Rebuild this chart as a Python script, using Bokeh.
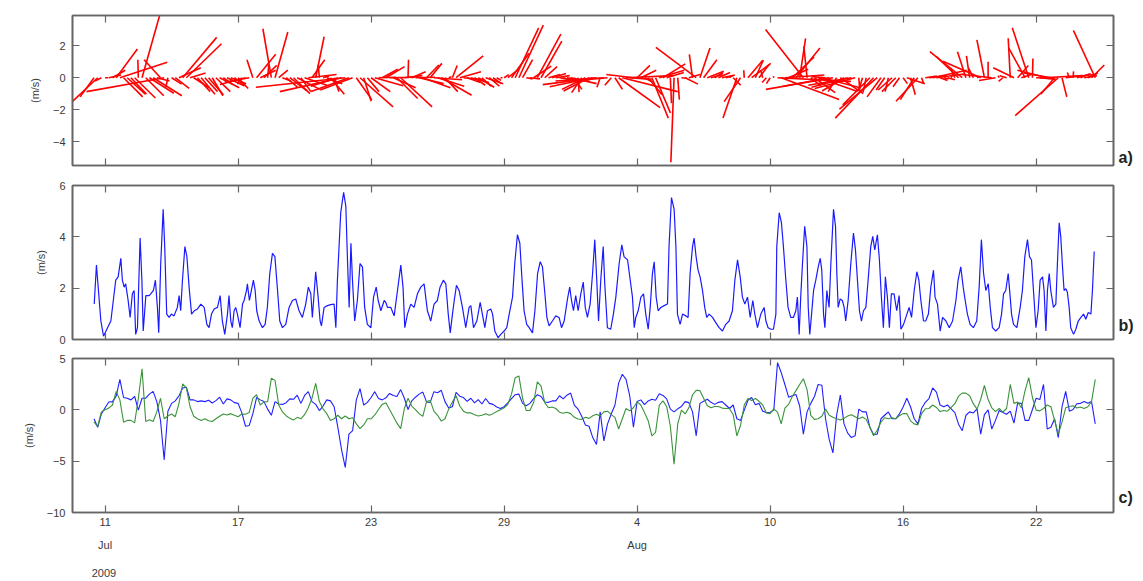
import numpy as np
from bokeh.plotting import figure
from bokeh.layouts import column
from bokeh.models import Range1d, FixedTicker, LinearAxis
from bokeh.embed import file_html
from bokeh.resources import INLINE

# x values are day numbers counted from 0 July 2009 (1 Aug = 32)
tick_days = [11, 17, 23, 29, 35, 41, 47, 53]
tick_labels = ["11", "17", "23", "29", "4", "10", "16", "22"]
month_days = [11, 35]
month_labels = ["Jul", "Aug"]
year_day = 10.95
year_label = "2009"
panel_tags = ["a)", "b)", "c)"]

# panel b: wind speed (m/s), vertices
speed_time = [
    10.51, 10.61, 10.81, 10.93, 11.11, 11.26, 11.48, 11.59, 11.71, 11.78, 11.86, 11.93, 12.04, 12.13, 12.23,
    12.31, 12.38, 12.46, 12.58, 12.66, 12.72, 12.84, 12.99, 13.06, 13.18, 13.27, 13.36, 13.42, 13.51, 13.62,
    13.69, 13.78, 13.89, 13.99, 14.11, 14.26, 14.34, 14.41, 14.49, 14.60, 14.69, 14.79, 14.90, 15.02, 15.17,
    15.32, 15.47, 15.59, 15.69, 15.80, 15.92, 16.07, 16.19, 16.29, 16.40, 16.52, 16.59, 16.67, 16.74, 16.82,
    16.89, 16.97, 17.09, 17.20, 17.27, 17.38, 17.42, 17.51, 17.60, 17.69, 17.77, 17.84, 17.95, 18.10, 18.22,
    18.32, 18.43, 18.55, 18.66, 18.78, 18.88, 19.00, 19.15, 19.30, 19.45, 19.60, 19.75, 19.90, 20.05, 20.17,
    20.28, 20.35, 20.50, 20.61, 20.70, 20.76, 20.88, 21.03, 21.18, 21.33, 21.41, 21.48, 21.63, 21.76, 21.86,
    21.94, 22.01, 22.09, 22.16, 22.26, 22.38, 22.50, 22.61, 22.71, 22.83, 22.99, 23.11, 23.23, 23.32, 23.44,
    23.59, 23.66, 23.74, 23.89, 24.04, 24.19, 24.34, 24.44, 24.52, 24.64, 24.79, 24.94, 25.09, 25.24, 25.39,
    25.54, 25.69, 25.84, 25.99, 26.11, 26.26, 26.37, 26.48, 26.57, 26.67, 26.75, 26.85, 26.97, 27.12, 27.27,
    27.42, 27.50, 27.62, 27.77, 27.92, 28.02, 28.13, 28.25, 28.40, 28.48, 28.58, 28.73, 28.85, 29.00, 29.12,
    29.23, 29.38, 29.48, 29.60, 29.71, 29.80, 29.90, 30.02, 30.13, 30.28, 30.39, 30.51, 30.63, 30.73, 30.84,
    30.93, 31.03, 31.18, 31.33, 31.48, 31.59, 31.71, 31.86, 31.96, 32.04, 32.13, 32.23, 32.34, 32.46, 32.57,
    32.66, 32.76, 32.88, 32.99, 33.09, 33.18, 33.26, 33.36, 33.47, 33.54, 33.66, 33.81, 33.93, 34.04, 34.19,
    34.31, 34.41, 34.57, 34.69, 34.79, 34.87, 34.94, 35.05, 35.17, 35.29, 35.39, 35.50, 35.59, 35.69, 35.77,
    35.86, 35.95, 36.07, 36.22, 36.37, 36.44, 36.55, 36.67, 36.75, 36.82, 36.94, 37.05, 37.20, 37.30, 37.39,
    37.50, 37.57, 37.66, 37.75, 37.84, 37.95, 38.05, 38.14, 38.25, 38.40, 38.55, 38.70, 38.85, 39.00, 39.15,
    39.30, 39.41, 39.53, 39.65, 39.75, 39.86, 39.98, 40.10, 40.22, 40.31, 40.43, 40.58, 40.73, 40.81, 40.91,
    41.03, 41.15, 41.26, 41.30, 41.41, 41.51, 41.60, 41.71, 41.81, 41.93, 42.05, 42.16, 42.23, 42.31, 42.38,
    42.46, 42.56, 42.66, 42.72, 42.79, 42.87, 42.96, 43.06, 43.17, 43.26, 43.33, 43.41, 43.47, 43.56, 43.66,
    43.74, 43.86, 43.95, 44.01, 44.07, 44.16, 44.26, 44.34, 44.41, 44.52, 44.64, 44.76, 44.85, 44.94, 45.03,
    45.12, 45.21, 45.32, 45.42, 45.54, 45.63, 45.72, 45.84, 45.93, 46.02, 46.11, 46.20, 46.29, 46.38, 46.47,
    46.59, 46.71, 46.82, 46.90, 47.02, 47.17, 47.27, 47.38, 47.50, 47.62, 47.71, 47.80, 47.92, 48.02, 48.14,
    48.25, 48.37, 48.44, 48.55, 48.67, 48.78, 48.93, 49.08, 49.23, 49.38, 49.48, 49.60, 49.71, 49.80, 49.90,
    50.02, 50.17, 50.32, 50.43, 50.53, 50.63, 50.73, 50.84, 50.93, 51.03, 51.18, 51.33, 51.44, 51.53, 51.63,
    51.74, 51.83, 51.89, 51.98, 52.13, 52.28, 52.38, 52.49, 52.61, 52.70, 52.79, 52.88, 52.99, 53.09, 53.18,
    53.29, 53.36, 53.44, 53.51, 53.59, 53.66, 53.78, 53.89, 53.96, 54.04, 54.11, 54.19, 54.26, 54.34, 54.41,
    54.49, 54.56, 54.69, 54.79, 54.90, 55.02, 55.14, 55.24, 55.35, 55.47, 55.54, 55.62,
]
speed = [
    1.38, 2.90, 0.72, 0.13, 0.46, 0.72, 2.31, 2.44, 3.16, 2.31, 2.04, 2.17, 1.52, 0.86, 1.78,
    1.91, 0.20, 0.46, 3.95, 2.31, 0.33, 1.71, 1.71, 1.78, 1.91, 2.31, 1.25, 0.26, 2.96, 5.07,
    3.62, 0.99, 0.86, 0.99, 0.92, 1.25, 1.71, 1.12, 2.31, 3.62, 3.23, 2.04, 0.99, 1.12, 1.19,
    1.38, 1.25, 0.59, 0.46, 0.99, 1.19, 1.25, 1.71, 0.72, 0.20, 0.99, 1.71, 0.72, 0.46, 1.12,
    1.25, 0.99, 0.46, 1.38, 1.52, 1.91, 2.17, 1.52, 1.91, 2.31, 1.91, 1.12, 0.72, 0.46, 0.59,
    1.25, 2.57, 3.36, 3.23, 1.91, 0.72, 0.46, 0.59, 1.25, 1.52, 1.58, 1.12, 0.86, 1.38, 2.04,
    1.78, 0.86, 2.64, 1.65, 0.72, 0.53, 1.25, 1.32, 1.36, 1.38, 0.46, 2.31, 4.94, 5.73, 5.20,
    2.96, 1.25, 3.75, 2.31, 0.72, 1.52, 2.96, 2.83, 1.25, 0.59, 0.46, 1.65, 2.04, 1.52, 1.12,
    1.52, 1.45, 1.25, 1.25, 0.92, 1.91, 2.90, 2.04, 0.46, 0.99, 1.38, 1.25, 1.78, 2.04, 2.17,
    1.12, 0.72, 1.38, 1.52, 2.04, 2.31, 2.17, 0.99, 0.26, 0.99, 1.52, 2.11, 1.91, 1.25, 0.46,
    1.25, 1.32, 0.46, 0.72, 1.45, 0.99, 0.46, 1.12, 1.19, 0.99, 0.33, 0.07, 0.20, 0.33, 0.46,
    0.99, 1.65, 2.96, 4.08, 3.75, 2.44, 1.12, 0.59, 0.46, 0.26, 1.12, 2.57, 3.03, 2.83, 1.78,
    0.86, 0.53, 0.72, 0.92, 0.86, 0.46, 0.72, 1.58, 2.04, 1.52, 1.12, 1.71, 1.12, 1.78, 2.24,
    1.25, 0.86, 1.38, 2.57, 3.89, 2.31, 0.72, 2.31, 3.62, 2.17, 0.46, 0.40, 0.99, 1.65, 2.96,
    3.69, 3.23, 3.10, 2.31, 1.65, 0.46, 0.86, 1.12, 1.65, 1.78, 0.99, 0.40, 1.25, 2.57, 3.03,
    1.65, 1.12, 1.25, 1.32, 1.38, 3.62, 5.53, 5.07, 3.62, 0.99, 0.59, 0.99, 0.92, 0.86, 2.57,
    3.62, 3.95, 3.23, 2.70, 2.44, 1.91, 1.25, 0.86, 0.99, 0.86, 0.66, 0.46, 0.33, 0.59, 0.72,
    1.12, 2.31, 3.10, 2.44, 1.65, 1.38, 1.65, 0.86, 1.52, 0.99, 0.46, 0.99, 1.25, 0.72, 0.46,
    0.40, 0.40, 0.99, 3.62, 4.94, 4.55, 3.62, 2.31, 1.25, 0.86, 0.86, 1.12, 1.65, 0.20, 1.65,
    2.96, 4.41, 3.62, 1.25, 0.20, 0.99, 1.91, 2.31, 2.83, 3.16, 2.70, 0.99, 0.46, 1.91, 1.25,
    2.96, 5.07, 4.41, 2.57, 1.25, 1.58, 1.52, 1.25, 0.72, 1.52, 2.96, 4.15, 3.49, 2.31, 1.12,
    0.72, 1.12, 1.25, 2.31, 3.62, 4.02, 3.49, 4.08, 3.10, 1.65, 0.46, 2.44, 1.65, 0.46, 1.78,
    1.78, 1.12, 1.71, 0.40, 0.59, 0.99, 1.25, 0.86, 1.91, 2.64, 2.31, 1.52, 0.72, 0.72, 0.99,
    2.04, 2.70, 1.65, 1.38, 0.33, 0.86, 0.72, 0.46, 0.72, 1.52, 2.31, 2.83, 2.04, 1.52, 0.99,
    0.59, 0.46, 0.72, 2.04, 3.89, 2.57, 1.91, 2.17, 1.25, 0.46, 0.33, 0.46, 0.99, 1.78, 1.91,
    2.57, 1.65, 0.99, 0.59, 0.46, 1.25, 1.91, 3.23, 3.89, 3.23, 3.10, 1.91, 0.46, 1.12, 2.31,
    2.44, 1.91, 0.33, 1.91, 2.57, 1.91, 1.25, 1.38, 2.96, 4.55, 4.02, 2.83, 1.91, 1.98, 1.84,
    1.25, 0.46, 0.20, 0.40, 0.72, 0.86, 0.99, 0.79, 1.05, 0.99, 1.91, 3.43,
]

# panels a and c: east (u, blue) and north (v, green) components, one reading every 4 hours
uv_start_day = 10.5
uv_step_hours = 4
u = [
    -0.87, -1.7, -0.4, 0.2, 0.77, 0.8, 1.33, 2.97, 1.2, 1.13,
    0.97, 1.3, -0.03, 1.13, 1.13, 1.53, 1.8, 0.8, -1.03, -4.87,
    -0.13, 0.63, 0.87, 1.37, 2.13, 2.2, 0.97, 0.97, 0.8, 0.87,
    0.8, 0.93, 0.67, 0.9, 1.23, 0.57, 1.07, 0.97, 0.7, 0.63,
    -0.27, -1.6, -1.53, -0.37, 1.2, 0.97, 0.8, 0.07, -0.53, 0.8,
    0.57, 0.53, 0.7, 1.07, 1.03, 1.43, 0.63, 1.4, 1.77, 0.8,
    0.53, -0.07, 0.37, 0.97, 0.87, 0.3, -1.7, -3.87, -5.6, -2.37,
    -2.03, 0.97, 2.07, 0.47, 0.73, 1.2, 1.77, 1.1, 0.97, 1.17,
    1.6, 1.4, 1.3, 1.97, 1.13, 0.03, 0.87, 1.23, 1.53, 1.73,
    0.77, 0.73, 1.77, 1.67, 1.9, 0.8, 0.17, 0.3, 1.7, 1.33,
    1.2, 0.83, 1.13, 0.67, 1.0, 0.57, 1.1, 0.63, 0.53, 0.27,
    0.13, 0.3, 0.67, 1.1, 1.47, 1.53, 0.63, 0.4, 0.63, 1.1,
    1.47, 1.3, 0.77, 0.73, 0.87, 0.87, 1.37, 1.07, 1.43, 1.63,
    0.47, 0.07, -0.63, -1.47, -1.6, -2.7, -3.37, -0.2, -3.03, -1.37,
    -0.4, 0.47, 2.6, 3.47, 2.97, 1.37, -1.7, 0.8, 0.97, 0.5,
    0.87, 1.03, 0.93, 1.57, 1.4, 1.07, 0.07, -0.2, 0.1, 0.33,
    0.8, 0.7, -0.2, -2.53, 0.63, 0.83, 1.03, 0.73, 0.53, 0.73,
    0.8, 0.47, 0.13, 0.47, -0.87, -1.03, -0.03, 0.93, 1.2, 0.5,
    0.63, -0.13,
    -0.27, -0.23, -0.03, 4.6, 3.63, 2.47, 1.23, 1.37, 1.5, 0.37,
    -2.37, -0.2, 0.63, 1.3, 2.47, 2.4, -0.87, -2.9, -4.2, -0.53,
    1.43, -1.37, -2.27, -2.7, -2.53, 0.07, -0.2, -0.2, -1.7, -2.4,
    -2.37, -0.87, -0.53, -0.2, -0.87, -0.87, -0.4, 0.27, 1.13, 0.3,
    -0.87, -1.37, 0.13, 0.73, 1.1, 2.13, 1.73, 0.47, 0.3, 0.47,
    0.1, -0.27, -1.4, -2.03, -0.53, -0.2, -0.3, 0.1, -2.37, -0.47,
    0.0, -1.87, -1.03, -0.07, -0.27, -0.43, -0.13, -1.3, 0.67, 0.63,
    -1.03, -1.03, 0.03, 1.13, 1.0, 2.47, -1.87, -1.7, -0.87, -2.7,
    0.3, 1.8, -0.13, 0.03, 0.6, 0.63, 0.8, 0.63, 0.8, -1.37,
]
v = [
    -1.2, -1.6, -0.2, 0.0, 0.17, 0.47, 1.8, 0.97, -1.2, -1.03,
    -1.03, -1.27, 1.13, 4.0, -1.13, -0.97, -1.13, -0.2, 1.13, -0.87,
    -0.6, -0.4, -0.67, 0.63, 2.53, 2.13, 0.3, -0.63, -0.87, -1.03,
    -0.87, -1.07, -1.13, -0.87, -0.63, -0.4, -0.5, -0.37, -0.53, -0.67,
    -0.4, -0.43, -0.27, 1.13, 1.47, 0.47, 0.77, 0.8, 3.07, 2.87,
    0.47, -0.2, -0.57, -0.83, -1.0, -0.73, -0.87, -0.47, 0.2, 1.13,
    2.57, 0.8, 0.1, -0.37, -1.03, -0.87, -0.53, -0.87, -0.6, -0.87,
    -0.77, -1.37, -1.83, -1.47, -0.87, -0.87, -0.5, 0.03, 0.53, 0.7,
    0.03, -0.63, -1.3, -1.83, 0.13, 1.13, 0.37, 0.03, -0.37, -0.63,
    0.8, 0.9, -0.13, -0.53, -1.1, -0.87, 0.07, 0.77, 1.37, 0.37,
    -0.13, -0.3, -0.3, -0.47, -0.6, -0.53, -0.37, -0.53, -0.37, -0.17,
    0.0, 0.2, 0.53, 1.53, 3.13, 3.3, 1.13, -0.07, -0.07, 0.73,
    2.73, 2.3, 0.7, 0.2, 0.27, 0.13, -0.23, -0.33, -0.23, -0.37,
    -0.73, -0.9, -0.93, -0.73, -0.83, -0.57, -0.43, -0.6, -0.2, -0.13,
    -0.47, -0.73, -1.87, -0.87, 0.13, -0.1, 0.2, 0.77, 0.47, -0.27,
    -1.07, -2.53, -2.2, 0.47, 0.87, 0.33, -1.6, -5.3, -1.37, -0.03,
    -0.4, 0.2, 1.47, 1.9, 1.87, 1.13, 0.4, 0.2, 0.33, 0.33,
    0.17, 0.13, 0.13, -0.47, -2.53, -1.5, 0.47, 1.1, 0.9, 1.1,
    0.83, 0.47,
    -0.3, -0.37, 0.1, -0.23, -1.37, 0.17, 0.53, 1.3, 1.87, 2.47,
    3.03, 1.97, -0.53, -0.93, -0.87, -0.63, 0.07, -0.53, -0.73, -0.87,
    -1.0, -0.83, -0.6, -0.47, -0.67, -0.87, -0.7, -0.93, -1.7, -2.53,
    -1.97, -1.2, -0.77, -0.87, -0.77, -0.87, -0.57, -0.37, -0.37, -1.07,
    -1.37, -1.47, -0.37, 0.1, 0.13, 0.47, 0.23, -0.17, -0.07, -0.13,
    0.23, 0.6, 1.33, 1.63, 1.63, 1.37, 0.6, 0.07, 1.03, 2.37,
    1.0, 0.2, -0.17, 0.13, -0.23, 0.13, 2.47, 0.63, 0.77, 0.2,
    1.87, 3.13, 1.2, -0.03, -0.1, 0.13, 0.47, 0.3, -1.03, -2.37,
    -1.2, 0.2, 0.33, 0.4, 0.17, 0.27, 0.13, 0.3, 0.8, 2.97,
]

uv_time = uv_start_day + np.arange(len(u)) * uv_step_hours / 24.0
u_arr = np.array(u)
v_arr = np.array(v)

X_START, X_END = 9.53, 56.49
FRAME_W = 1041
AX_COLOR = "#666666"
LBL_COLOR = "#3a3a3a"
FONT = "Liberation Sans"


def style_axis(ax):
    ax.axis_line_color = AX_COLOR
    ax.axis_line_width = 1.6
    ax.major_tick_line_color = AX_COLOR
    ax.major_tick_line_width = 1.2
    ax.major_tick_in = 7
    ax.major_tick_out = 0
    ax.minor_tick_line_color = None
    ax.major_label_text_font = FONT
    ax.major_label_text_font_size = "11px"
    ax.major_label_text_color = LBL_COLOR
    ax.major_label_standoff = 5


def hide_labels(ax):
    ax.major_label_text_color = None
    ax.major_label_text_font_size = "1px"
    ax.major_label_standoff = 0


def text_axis(ticks, labels, size, bold, standoff):
    ax = LinearAxis(ticker=FixedTicker(ticks=ticks),
                    major_label_overrides={t: s for t, s in zip(ticks, labels)})
    ax.axis_line_color = None
    ax.major_tick_line_color = None
    ax.minor_tick_line_color = None
    ax.major_tick_in = 0
    ax.major_tick_out = 0
    ax.major_label_text_font = FONT
    ax.major_label_text_font_size = size
    ax.major_label_text_font_style = "bold" if bold else "normal"
    ax.major_label_text_color = "#222222" if bold else LBL_COLOR
    ax.major_label_standoff = standoff
    return ax


def make_fig(frame_h, y0, y1, yticks, top, bottom, show_x_labels, tag, tag_y):
    p = figure(frame_width=FRAME_W, frame_height=frame_h,
               x_range=Range1d(X_START, X_END), y_range=Range1d(y0, y1),
               output_backend="svg", toolbar_location=None,
               min_border_left=72, min_border_right=30,
               min_border_top=top, min_border_bottom=bottom,
               background_fill_color="white", border_fill_color="white")
    p.xgrid.visible = False
    p.ygrid.visible = False
    p.outline_line_color = AX_COLOR
    p.outline_line_width = 1.6
    p.add_layout(LinearAxis(), "above")
    p.add_layout(LinearAxis(), "right")
    for ax in p.xaxis:
        ax.ticker = FixedTicker(ticks=tick_days)
        ax.major_label_overrides = {d: s for d, s in zip(tick_days, tick_labels)}
    for ax in p.yaxis:
        ax.ticker = FixedTicker(ticks=yticks)
    for ax in p.axis:
        style_axis(ax)
    hide_labels(p.above[0])
    hide_labels(p.right[0])
    if not show_x_labels:
        hide_labels(p.below[0])
    yl = p.left[0]
    yl.major_label_standoff = 7
    yl.axis_label = "(m/s)"
    yl.axis_label_text_font = FONT
    yl.axis_label_text_font_size = "11px"
    yl.axis_label_text_font_style = "normal"
    yl.axis_label_text_color = LBL_COLOR
    yl.axis_label_standoff = 9
    # panel tag to the right of the frame
    p.add_layout(text_axis([tag_y], [tag], "16px", True, 5), "right")
    return p


# panel a: stick plot (sticks drawn to equal scale on both axes)
pa = make_fig(150, -5.5, 3.9, [-4, -2, 0, 2], 15, 5, False, panel_tags[0], -5.0)
px_per_day = FRAME_W / (X_END - X_START)
px_per_ms = 150 / (3.9 - (-5.5))
days_per_ms = px_per_ms / px_per_day
pa.segment(x0=uv_time, y0=np.zeros(len(u)), x1=uv_time + u_arr * days_per_ms, y1=v_arr,
           line_color="#ff0000", line_width=1.6)

# panel b: speed
pb = make_fig(154, 0, 6, [0, 2, 4, 6], 15, 9, False, panel_tags[1], 0.55)
pb.line(speed_time, speed, line_color="#1a1aff", line_width=1.2)

# panel c: components
pc = make_fig(154, -10, 5, [-10, -5, 0, 5], 10, 69, True, panel_tags[2], -8.5)
pc.line(uv_time, u_arr, line_color="#2020ff", line_width=1.1)
pc.line(uv_time, v_arr, line_color="#3a933a", line_width=1.1)
pc.add_layout(text_axis(month_days, month_labels, "11px", False, 10), "below")
pc.add_layout(text_axis([year_day], [year_label], "11px", False, 15), "below")

layout = column(pa, pb, pc, spacing=0)
open("out.html", "w").write(file_html(layout, INLINE))
